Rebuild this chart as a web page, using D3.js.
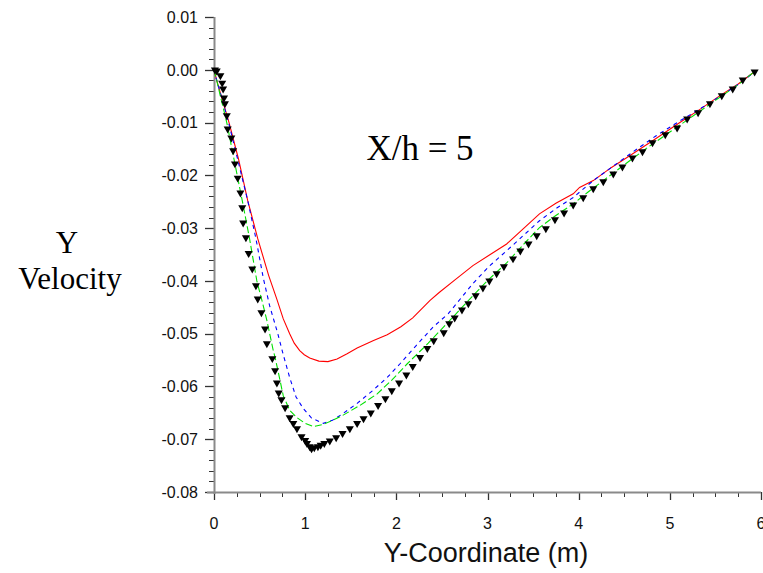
<!DOCTYPE html>
<html>
<head>
<meta charset="utf-8">
<script src="https://cdn.jsdelivr.net/npm/d3@7"></script>
<style>
  html, body { margin: 0; padding: 0; background: #fff; }
  svg { display: block; }
</style>
</head>
<body>
<svg id="chart" width="763" height="573"></svg>
<script>
// Y velocity profile across the channel at X/h = 5

const xTicks = [0, 1, 2, 3, 4, 5, 6];
const yTicks = [0.01, 0.00, -0.01, -0.02, -0.03, -0.04, -0.05, -0.06, -0.07, -0.08];

// measured profile (triangle markers)
const measX = [0.01, 0.03, 0.07, 0.09, 0.10, 0.11, 0.12, 0.14, 0.15, 0.19, 0.21, 0.23, 0.26, 0.29,
  0.31, 0.32, 0.35, 0.38, 0.42, 0.46, 0.48, 0.52, 0.56, 0.58, 0.64, 0.67, 0.69, 0.71, 0.74, 0.78,
  0.83, 0.87, 0.91, 0.96, 1.00, 1.02, 1.05, 1.07, 1.10, 1.14, 1.17, 1.21, 1.27, 1.34, 1.41, 1.49,
  1.57, 1.64, 1.72, 1.80, 1.88, 1.95, 2.03, 2.11, 2.18, 2.26, 2.34, 2.41, 2.52, 2.58, 2.64, 2.72,
  2.79, 2.87, 2.95, 3.02, 3.10, 3.18, 3.28, 3.36, 3.45, 3.54, 3.64, 3.74, 3.84, 3.94, 4.05, 4.16,
  4.27, 4.38, 4.48, 4.59, 4.70, 4.81, 4.95, 5.08, 5.19, 5.31, 5.44, 5.57, 5.69, 5.80, 5.93];
const measV = [0.0000, -0.0002, -0.0011, -0.0025, -0.0036, -0.0053, -0.0064, -0.0087, -0.0112, -0.0129,
  -0.0153, -0.0178, -0.0205, -0.0233, -0.0261, -0.0290, -0.0318, -0.0348, -0.0377, -0.0409, -0.0434,
  -0.0460, -0.0491, -0.0519, -0.0547, -0.0570, -0.0593, -0.0612, -0.0625, -0.0640, -0.0659, -0.0670,
  -0.0680, -0.0695, -0.0702, -0.0708, -0.0714, -0.0718, -0.0716, -0.0714, -0.0711, -0.0708, -0.0703,
  -0.0697, -0.0689, -0.0680, -0.0670, -0.0661, -0.0650, -0.0636, -0.0623, -0.0608, -0.0593, -0.0578,
  -0.0562, -0.0545, -0.0528, -0.0513, -0.0498, -0.0481, -0.0470, -0.0455, -0.0443, -0.0428, -0.0413,
  -0.0400, -0.0386, -0.0373, -0.0358, -0.0343, -0.0330, -0.0314, -0.0301, -0.0284, -0.0271, -0.0256,
  -0.0242, -0.0225, -0.0212, -0.0197, -0.0184, -0.0167, -0.0155, -0.0138, -0.0123, -0.0110, -0.0093,
  -0.0081, -0.0064, -0.0049, -0.0036, -0.0019, -0.0004];

// simulation A (green, long dash)
const greenX = [0, 0.03, 0.07, 0.14, 0.22, 0.31, 0.39, 0.47, 0.53, 0.58, 0.65, 0.67, 0.72, 0.76, 0.83,
  0.91, 1.00, 1.09, 1.20, 1.30, 1.41, 1.60, 1.79, 1.95, 2.12, 2.35, 2.57, 2.84, 3.02, 3.21, 3.40,
  3.57, 3.75, 3.94, 4.10, 4.27, 4.50, 4.75, 5.00, 5.25, 5.50, 5.75, 5.91];
const greenV = [0, -0.0020, -0.0050, -0.0100, -0.0170, -0.0248, -0.0320, -0.0400, -0.0440, -0.0475,
  -0.0532, -0.0545, -0.0585, -0.0618, -0.0645, -0.0659, -0.0670, -0.0676, -0.0672, -0.0664, -0.0655,
  -0.0636, -0.0614, -0.0588, -0.0557, -0.0518, -0.0478, -0.0428, -0.0396, -0.0366, -0.0330, -0.0299,
  -0.0276, -0.0254, -0.0232, -0.0210, -0.0180, -0.0148, -0.0118, -0.0088, -0.0058, -0.0028, -0.0006];

// simulation B (blue, short dash)
const blueX = [0, 0.03, 0.08, 0.16, 0.26, 0.37, 0.46, 0.54, 0.61, 0.70, 0.76, 0.83, 0.90, 0.98, 1.07,
  1.20, 1.30, 1.41, 1.57, 1.74, 1.90, 2.04, 2.22, 2.40, 2.57, 2.84, 3.02, 3.21, 3.40, 3.57, 3.76,
  3.94, 4.16, 4.40, 4.60, 4.85, 5.10, 5.35, 5.60, 5.80, 5.91];
const blueV = [0, -0.0020, -0.0050, -0.0100, -0.0170, -0.0248, -0.0320, -0.0394, -0.0447, -0.0500,
  -0.0540, -0.0583, -0.0620, -0.0642, -0.0660, -0.0670, -0.0664, -0.0652, -0.0632, -0.0608, -0.0583,
  -0.0557, -0.0522, -0.0488, -0.0462, -0.0405, -0.0372, -0.0343, -0.0313, -0.0286, -0.0262, -0.0242,
  -0.0210, -0.0180, -0.0155, -0.0125, -0.0098, -0.0072, -0.0045, -0.0022, -0.0006];

// simulation C (red, solid)
const redX = [0, 0.03, 0.08, 0.165, 0.27, 0.37, 0.48, 0.60, 0.69, 0.76, 0.83, 0.88, 0.94, 0.99, 1.05,
  1.15, 1.25, 1.35, 1.46, 1.57, 1.75, 1.90, 2.05, 2.18, 2.37, 2.47, 2.65, 2.84, 3.03, 3.21, 3.40,
  3.57, 3.75, 3.94, 4.01, 4.16, 4.36, 4.56, 4.84, 5.11, 5.33, 5.55, 5.75, 5.91];
const redV = [0, -0.0020, -0.0050, -0.0100, -0.0170, -0.0248, -0.0320, -0.0390, -0.0435, -0.0472,
  -0.0500, -0.0518, -0.0532, -0.0540, -0.0546, -0.0552, -0.0553, -0.0548, -0.0538, -0.0527, -0.0513,
  -0.0502, -0.0487, -0.0470, -0.0437, -0.0422, -0.0397, -0.0371, -0.0350, -0.0330, -0.0300, -0.0273,
  -0.0253, -0.0235, -0.0223, -0.0210, -0.0185, -0.0163, -0.0131, -0.0100, -0.0075, -0.0049, -0.0027,
  -0.0006];

const svg = d3.select("#chart");

const x = d3.scaleLinear().domain([0, 6]).range([214, 761]);
const y = d3.scaleLinear().domain([-0.08, 0.01]).range([492, 17]);

const axisColor = "#8a8a8a";
const tickColor = "#333";

// y axis: major every 0.01, minor every 0.002
const yMinor = d3.range(-0.08, 0.01 + 1e-9, 0.002);
const yAxisG = svg.append("g");
yAxisG.selectAll("line.minor").data(yMinor).join("line")
  .attr("x1", 209).attr("x2", 214)
  .attr("y1", d => Math.round(y(d)) + 0.5).attr("y2", d => Math.round(y(d)) + 0.5)
  .attr("stroke", tickColor).attr("stroke-width", 1);
yAxisG.selectAll("line.major").data(yTicks).join("line")
  .attr("x1", 205).attr("x2", 214)
  .attr("y1", d => Math.round(y(d)) + 0.5).attr("y2", d => Math.round(y(d)) + 0.5)
  .attr("stroke", tickColor).attr("stroke-width", 1.3);
yAxisG.selectAll("text").data(yTicks).join("text")
  .attr("x", 198).attr("y", d => y(d))
  .attr("dy", "0.36em")
  .attr("text-anchor", "end")
  .attr("font-family", "Liberation Sans, Arial, sans-serif")
  .attr("font-size", 16)
  .attr("fill", "#111")
  .text(d => d3.format(".2f")(d).replace("\u2212", "-"));

// x axis: major every 1, minor every 0.25
const xMinor = d3.range(0, 6 + 1e-9, 0.25);
const xAxisG = svg.append("g");
xAxisG.selectAll("line.minor").data(xMinor).join("line")
  .attr("x1", d => Math.round(x(d)) + 0.5).attr("x2", d => Math.round(x(d)) + 0.5)
  .attr("y1", 492).attr("y2", 497)
  .attr("stroke", tickColor).attr("stroke-width", 1);
xAxisG.selectAll("line.major").data(xTicks).join("line")
  .attr("x1", d => Math.round(x(d)) + 0.5).attr("x2", d => Math.round(x(d)) + 0.5)
  .attr("y1", 492).attr("y2", 500)
  .attr("stroke", tickColor).attr("stroke-width", 1.3);
xAxisG.selectAll("text").data(xTicks).join("text")
  .attr("x", d => x(d)).attr("y", 529)
  .attr("text-anchor", "middle")
  .attr("font-family", "Liberation Sans, Arial, sans-serif")
  .attr("font-size", 16)
  .attr("fill", "#111")
  .text(d => d);

// axis lines
svg.append("line").attr("x1", 207).attr("x2", 761).attr("y1", 492.5).attr("y2", 492.5)
  .attr("stroke", axisColor).attr("stroke-width", 2);
svg.append("line").attr("x1", 214.5).attr("x2", 214.5).attr("y1", 17).attr("y2", 494)
  .attr("stroke", axisColor).attr("stroke-width", 2);

// profile curves
const line = d3.line().x(d => x(d[0])).y(d => y(d[1]));
const series = [
  { xs: redX,   vs: redV,   color: "#ff0000", dash: null },
  { xs: blueX,  vs: blueV,  color: "#0000ff", dash: "4,4" },
  { xs: greenX, vs: greenV, color: "#00e000", dash: "7,3" }
];
svg.append("g").selectAll("path").data(series).join("path")
  .attr("d", s => line(d3.zip(s.xs, s.vs)))
  .attr("fill", "none")
  .attr("stroke", s => s.color)
  .attr("stroke-width", 1.1)
  .attr("stroke-dasharray", s => s.dash);

// measured points as downward triangles
const tri = d3.symbol().type(d3.symbolTriangle).size(28);
svg.append("g").selectAll("path").data(d3.zip(measX, measV)).join("path")
  .attr("d", tri)
  .attr("transform", d => `translate(${x(d[0])},${y(d[1])}) rotate(180)`)
  .attr("fill", "#000");

// labels
svg.append("text")
  .attr("x", 420).attr("y", 160)
  .attr("text-anchor", "middle")
  .attr("font-family", "Liberation Serif, Times New Roman, serif")
  .attr("font-size", 35)
  .attr("fill", "#000")
  .text("X/h = 5");

svg.append("text")
  .attr("x", 67).attr("y", 253)
  .attr("text-anchor", "middle")
  .attr("font-family", "Liberation Serif, Times New Roman, serif")
  .attr("font-size", 31)
  .attr("fill", "#000")
  .text("Y");
svg.append("text")
  .attr("x", 70).attr("y", 289)
  .attr("text-anchor", "middle")
  .attr("font-family", "Liberation Serif, Times New Roman, serif")
  .attr("font-size", 31)
  .attr("fill", "#000")
  .text("Velocity");

svg.append("text")
  .attr("x", 486).attr("y", 562)
  .attr("text-anchor", "middle")
  .attr("font-family", "Liberation Sans, Arial, sans-serif")
  .attr("font-size", 27)
  .attr("fill", "#111")
  .text("Y-Coordinate (m)");
</script>
</body>
</html>
